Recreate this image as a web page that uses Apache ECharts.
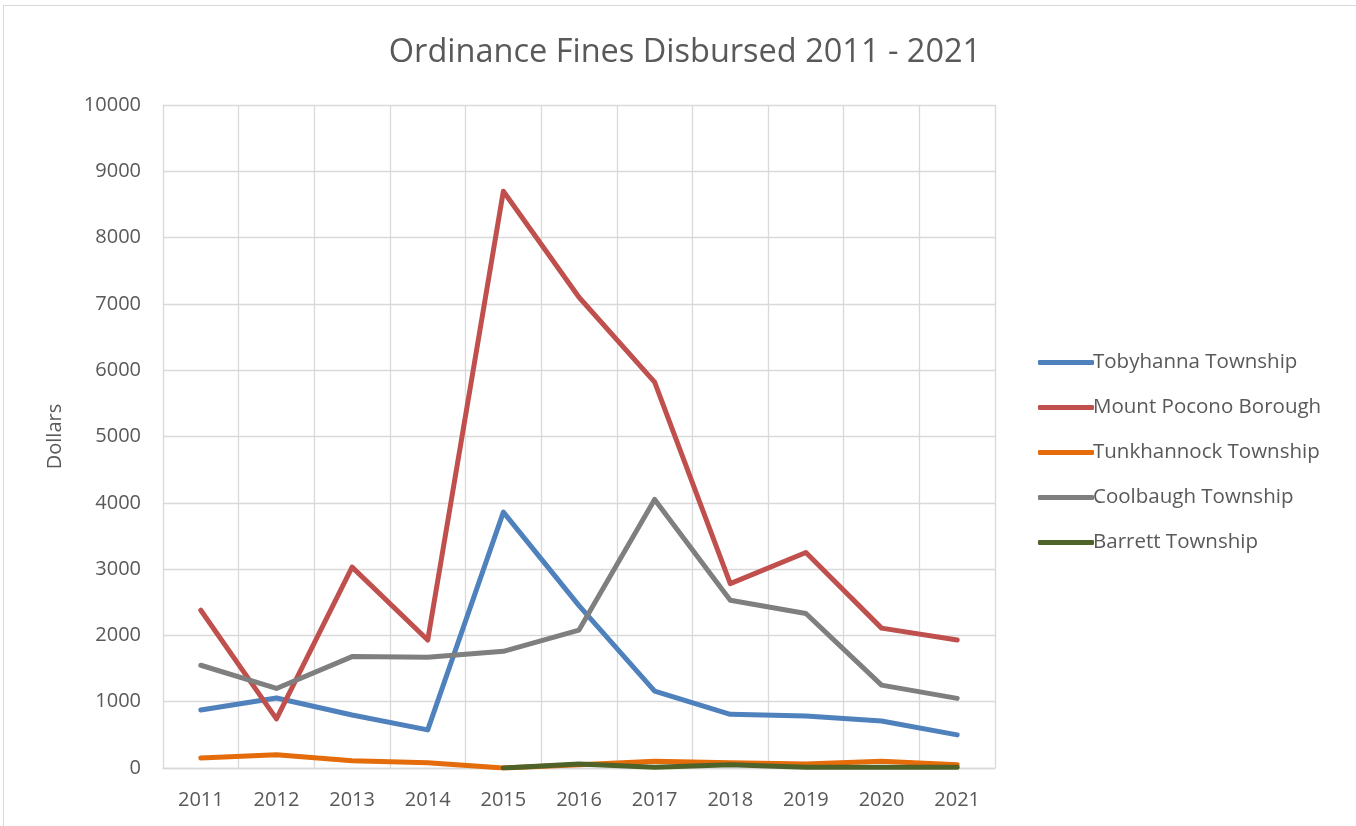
<!DOCTYPE html>
<html><head><meta charset="utf-8">
<script src="https://cdn.jsdelivr.net/npm/echarts@6/dist/echarts.min.js"></script>
<style>
html,body{margin:0;padding:0;background:#fff;}
#frame{position:absolute;left:3px;top:5px;width:1360px;height:830px;border:1px solid #d9d9d9;box-sizing:border-box;}
#c{position:absolute;left:0;top:0;width:1356px;height:826px;}
</style></head>
<body>
<div id="frame"></div>
<div id="c"></div>
<script>
const years = ['2011','2012','2013','2014','2015','2016','2017','2018','2019','2020','2021'];
const tobyhanna = [875, 1055, 800, 575, 3860, 2450, 1160, 810, 785, 710, 500];
const mountPocono = [2380, 740, 3030, 1930, 8700, 7100, 5820, 2780, 3250, 2110, 1930];
const tunkhannock = [150, 200, 110, 80, 0, 50, 100, 80, 60, 100, 50];
const coolbaugh = [1550, 1200, 1680, 1670, 1760, 2080, 4050, 2530, 2330, 1250, 1050];
const barrett = [null, null, null, null, 0, 60, 10, 50, 10, 10, 10];
const seriesNames = ['Tobyhanna Township','Mount Pocono Borough','Tunkhannock Township','Coolbaugh Township','Barrett Township'];
const colors = ['#4F81BD','#C0504D','#E46C0A','#7F7F7F','#4F6228'];
const dataSets = [tobyhanna, mountPocono, tunkhannock, coolbaugh, barrett];

const FONT = 'Open Sans';
const chart = echarts.init(document.getElementById('c'));
chart.setOption({
  animation:false,
  title:{text:'Ordinance Fines Disbursed 2011 - 2021', left:680, top:31, textAlign:'center',
    textStyle:{fontFamily:FONT, fontWeight:'normal', fontSize:32.5, color:'#595959'}},
  grid:{left:163, right:361, top:105, bottom:58},
  legend:{orient:'vertical', left:1033, top:347, itemGap:24, itemWidth:56, itemHeight:5,
    icon:'roundRect', data:seriesNames,
    textStyle:{fontFamily:FONT, fontSize:20.5, color:'#595959', padding:[0,0,0,-6]}},
  xAxis:{type:'category', data:years, boundaryGap:true,
    axisLine:{lineStyle:{color:'#d9d9d9', width:1.3}}, axisTick:{show:false},
    axisLabel:{fontFamily:FONT, fontSize:20, color:'#595959', margin:22},
    splitLine:{show:true, lineStyle:{color:'#d9d9d9', width:1.3}}},
  yAxis:{type:'value', min:0, max:10000, interval:1000,
    name:'Dollars', nameLocation:'middle', nameGap:98, nameRotate:90,
    nameTextStyle:{fontFamily:FONT, fontSize:20, color:'#595959'},
    axisLine:{show:false}, axisTick:{show:false},
    axisLabel:{fontFamily:FONT, fontSize:20, color:'#595959', margin:22, formatter:v=>String(v)},
    splitLine:{lineStyle:{color:'#d9d9d9', width:1.3}}},
  series: seriesNames.map((n,i)=>({
    name:n, type:'line', data:dataSets[i], showSymbol:false, symbol:'none',
    color:colors[i], lineStyle:{width:5, color:colors[i], cap:'round', join:'round'},
    z: 2+i
  }))
});
</script>
</body></html>
